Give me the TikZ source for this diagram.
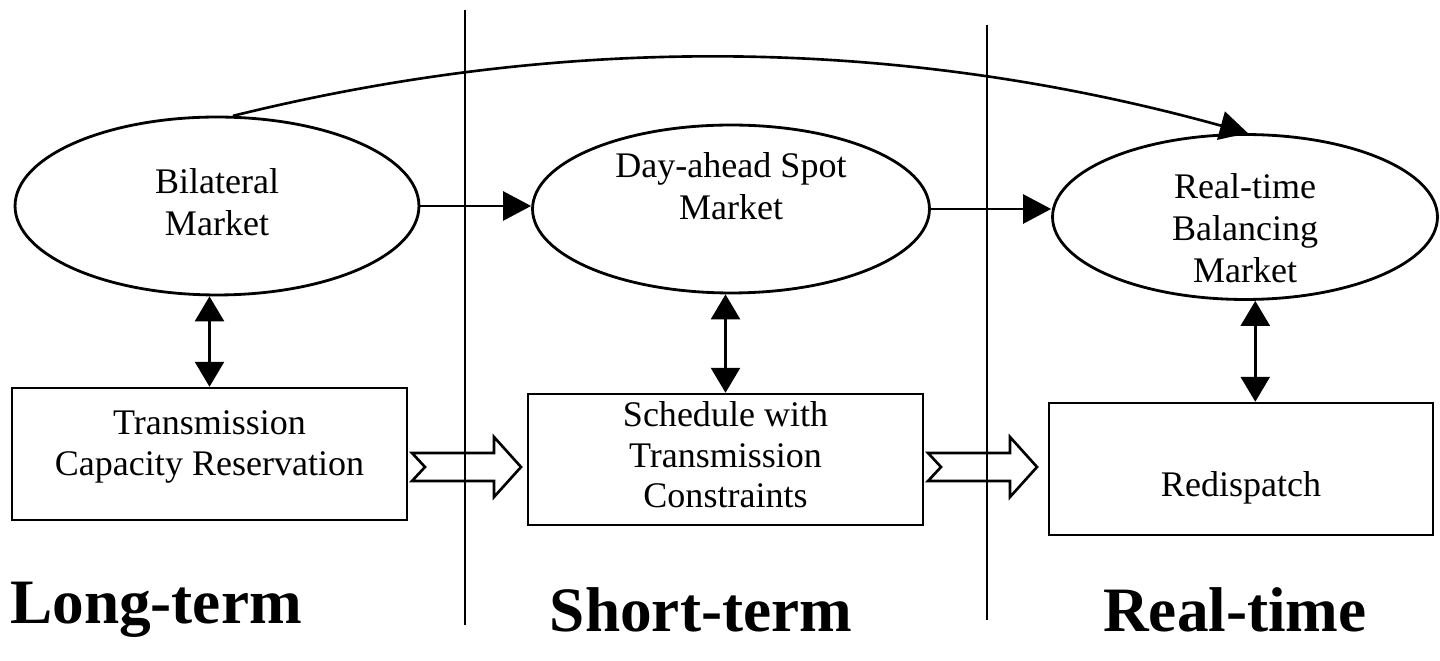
\documentclass[tikz,border=0pt]{standalone}
\usepackage{fontspec}
\setmainfont{Liberation Serif}
\usepackage{tikz}
\usetikzlibrary{shapes.geometric}
\usetikzlibrary{arrows.meta}
\usetikzlibrary{positioning}

\tikzset{
  mkt/.style={draw,ellipse,line width=1.6pt,inner sep=0pt},
  mtxt/.style={align=center,font=\fontsize{20.5}{24}\selectfont},
  btxt/.style={align=center,font=\fontsize{20.5}{23}\selectfont},
  blk/.style={draw,rectangle,line width=1.4pt,inner sep=0pt},
  fwd/.style={-{Triangle[length=0.56cm,width=0.58cm]},line width=1.5pt},
  dbl/.style={{Triangle[length=0.5cm,width=0.58cm]}-{Triangle[length=0.5cm,width=0.58cm]},line width=1.5pt},
  divider/.style={line width=1pt},
  phase/.style={font=\fontsize{36}{40}\selectfont\bfseries},
  pics/hollowarrow/.style={code={
    \draw[line width=1.5pt,line join=miter] (0,-14) -- (82,-14) -- (82,-30) -- (109,0)
      -- (82,30) -- (82,14) -- (0,14) -- (13,0) -- cycle;}}
}

\begin{document}
\begin{tikzpicture}[x=0.02cm,y=-0.02cm]
  \useasboundingbox (0,0) rectangle (1440,661);

  % time phases
  \coordinate (d1a) at (465,10);
  \coordinate (d1b) at (465,625);
  \coordinate (d2a) at (987,25);
  \coordinate (d2b) at (987,620);
  \draw[divider] (d1a) -- (d1b);
  \draw[divider] (d2a) -- (d2b);

  % markets
  \node[mkt,minimum width=8.08cm,minimum height=3.56cm,
    label={[mtxt,yshift=2pt]center:Bilateral\\Market}] (bm) at (217,206) {};
  \node[mkt,minimum width=7.94cm,minimum height=3.36cm,
    label={[mtxt,yshift=0.46cm]center:Day-ahead Spot\\Market}] (ds) at (731,209) {};
  \node[mkt,minimum width=7.7cm,minimum height=3.3cm,
    label={[mtxt,yshift=-0.22cm]center:Real-time\\Balancing\\Market}] (rb) at (1245,217) {};

  % transmission
  \node[blk,minimum width=7.9cm,minimum height=2.64cm,
    label={[btxt,yshift=0.14cm]center:Transmission\\Capacity Reservation}] (tc) at (209.5,454) {};
  \node[blk,minimum width=7.9cm,minimum height=2.62cm,
    label={[btxt,yshift=0.09cm]center:Schedule with\\Transmission\\Constraints}] (sc) at (725.5,459.5) {};
  \node[blk,minimum width=7.68cm,minimum height=2.64cm,
    label={[btxt,yshift=-0.38cm]center:Redispatch}] (rd) at (1241,469) {};

  \draw[fwd] (bm.east) -- (bm.east -| ds.west);
  \draw[fwd] (ds.east) -- (ds.east -| rb.west);
  \draw[fwd] (bm.80) .. controls +(340,-84) and +(-343,-95) .. (rb.88);

  \draw[dbl] (bm.south -| tc.north) -- (tc.north);
  \draw[dbl] (ds.south -| sc.north) -- (sc.north);
  \draw[dbl] (rb.south -| rd.78) -- (rd.78);

  \coordinate (h1) at (412,467);
  \coordinate (h2) at (928,467);
  \pic at (h1) {hollowarrow};
  \pic at (h2) {hollowarrow};

  \node[phase] (lt) at (156,610) {Long-term};
  \node[phase] (st) at (701,610) {Short-term};
  \node[phase] (rt) at (1235,610) {Real-time};
\end{tikzpicture}
\end{document}
